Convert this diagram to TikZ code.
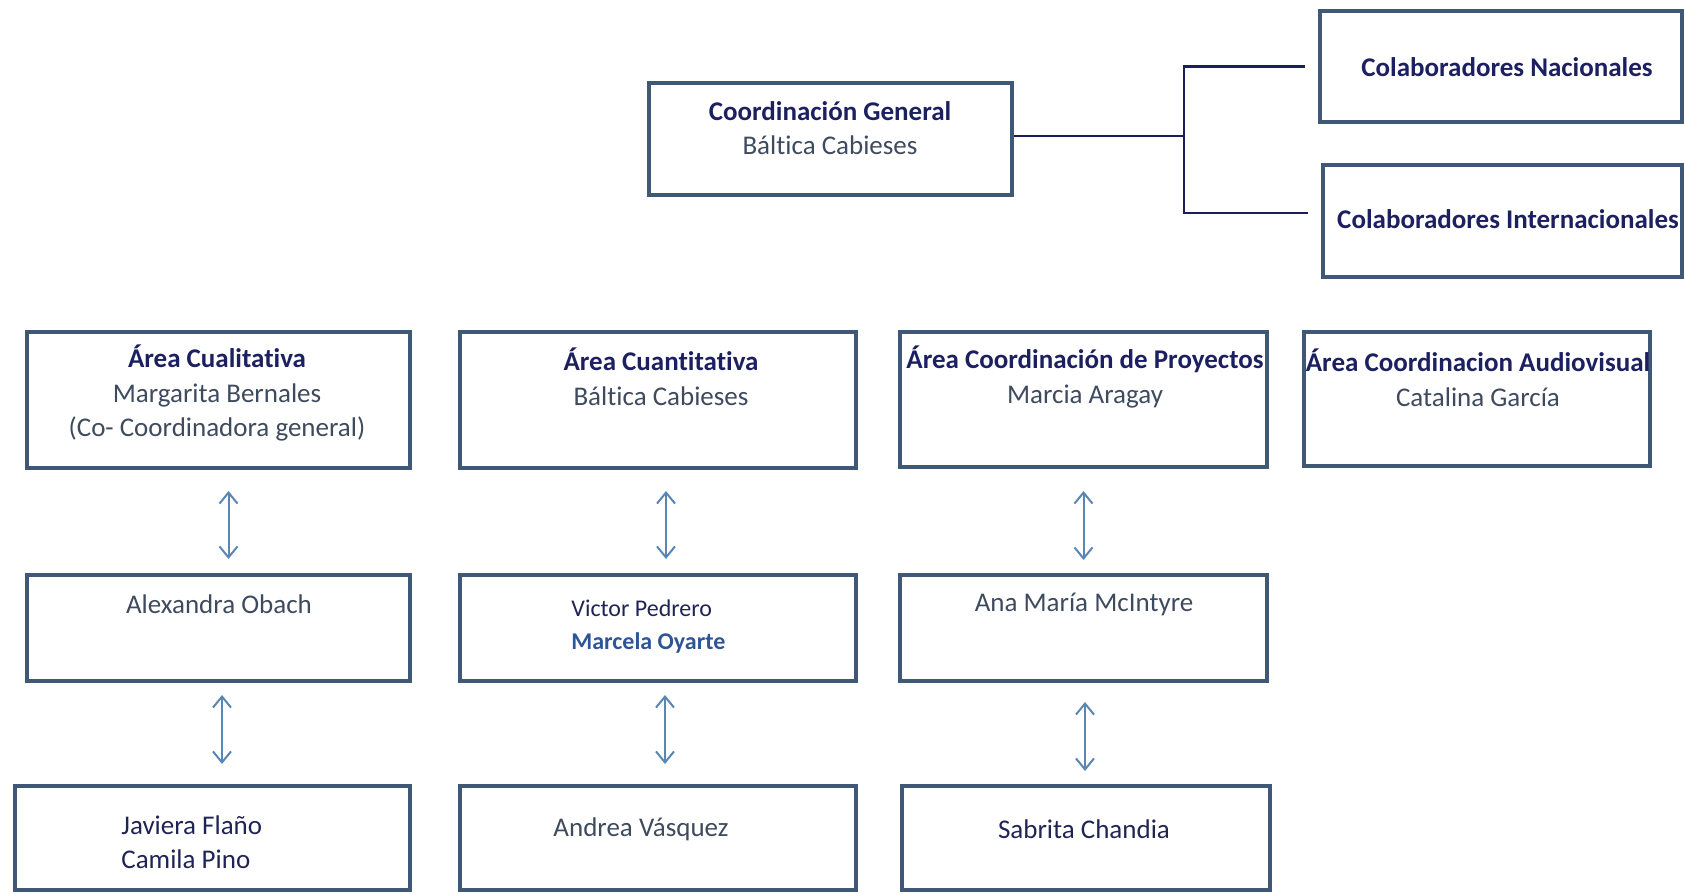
\documentclass[tikz,border=0pt]{standalone}
\usepackage{fontspec}
\setmainfont{Carlito}[Ligatures=NoCommon]
\usetikzlibrary{fit,arrows.meta}
\definecolor{borde}{HTML}{405878}
\definecolor{titulo}{HTML}{1C2060}
\definecolor{nombre}{HTML}{3E4A5E}
\definecolor{oscuro}{HTML}{202454}
\definecolor{azul}{HTML}{2E5597}
\definecolor{flechac}{HTML}{5A87B2}
\definecolor{lineac}{HTML}{1B1E5C}
\newcommand{\areatit}[1]{\textbf{\textcolor{titulo}{#1}}}
\begin{document}
\begin{tikzpicture}[x=0.5pt,y=-0.5pt]
\tikzstyle{caja}=[draw=borde,line width=2pt,inner sep=0pt]
\tikzstyle{txt}=[align=center,text=nombre,font=\fontsize{13.5}{17.25}\selectfont,inner sep=0pt]
\tikzstyle{flecha}=[draw=flechac,line width=1pt,{Straight Barb[length=5.5pt,width=9pt]}-{Straight Barb[length=5.5pt,width=9pt]}]
\tikzstyle{linea}=[draw=lineac,line width=1.25pt]
\useasboundingbox (0,0) rectangle (1684,893);
\node[caja,fit={(649,83) (1012,195)}] (cg) {};
\node[caja,fit={(1320,11) (1682,122)}] (nac) {};
\node[caja,fit={(1323,165) (1682,277)}] (inter) {};
\node[caja,fit={(27,332) (410,468)}] (cual) {};
\node[caja,fit={(460,332) (856,468)}] (cuan) {};
\node[caja,fit={(900,332) (1267,467)}] (proy) {};
\node[caja,fit={(1304,332) (1650,466)}] (audio) {};
\node[caja,fit={(27,575) (410,681)}] (obach) {};
\node[caja,fit={(460,575) (856,681)}] (pedrero) {};
\node[caja,fit={(900,575) (1267,681)}] (mcintyre) {};
\node[caja,fit={(15,786) (410,890)}] (flano) {};
\node[caja,fit={(460,786) (856,890)}] (vasquez) {};
\node[caja,fit={(902,786) (1270,890)}] (chandia) {};
\node[txt] at (830,128) (cgt) {\areatit{Coordinación General}\\Báltica Cabieses};
\node[txt] at (1507,67) (nact) {\areatit{Colaboradores Nacionales}};
\node[txt] at (1508,219) (intert) {\areatit{Colaboradores Internacionales}};
\node[txt] at (217,393) (cualt) {\areatit{Área Cualitativa}\\Margarita Bernales\\(Co- Coordinadora general)};
\node[txt] at (661,377) (cuant) {\areatit{Área Cuantitativa}\\Báltica Cabieses};
\node[txt] at (1085,377) (proyt) {\areatit{Área Coordinación de Proyectos}\\Marcia Aragay};
\node[txt] at (1478,378) (audiot) {\areatit{Área Coordinacion Audiovisual}\\Catalina García};
\node[txt] at (219,604) (obacht) {Alexandra Obach};
\node[txt,anchor=west,align=left,font=\fontsize{12}{16.5}\selectfont] at (571,627) (pedrerot) {\textcolor{oscuro}{Victor Pedrero}\\\textbf{\textcolor{azul}{Marcela Oyarte}}};
\node[txt] at (1084,604) (mcintyret) {Ana María McIntyre};
\node[txt,anchor=west,align=left,text=oscuro] at (121,842) (flanot) {Javiera Flaño\\Camila Pino};
\node[txt] at (641,829) (vasquezt) {Andrea Vásquez};
\node[txt,text=oscuro] at (1084,829) (chandiat) {Sabrita Chandia};
\coordinate (rama) at (1184,136);
\draw[linea] ([yshift=1.5pt]cg.east) -- (rama);
\draw[linea] ([xshift=-6.5pt]nac.west) -| (rama) |- ([xshift=-6.5pt,yshift=4pt]inter.west);
\draw[flecha,shorten <=10.5pt,shorten >=7pt] ([xshift=5pt]cual.south) -- ([xshift=5pt]cual.south |- obach.north);
\draw[flecha,shorten <=6pt,shorten >=10pt] ([xshift=1.75pt]obach.south) -- ([xshift=1.75pt]obach.south |- flano.north);
\draw[flecha,shorten <=10.5pt,shorten >=7pt] ([xshift=4pt]cuan.south) -- ([xshift=4pt]pedrero.north);
\draw[flecha,shorten <=6pt,shorten >=10pt] ([xshift=3.5pt]pedrero.south) -- ([xshift=3.5pt]vasquez.north);
\draw[flecha,shorten <=11pt,shorten >=6.5pt] (proy.south) -- (mcintyre.north);
\draw[flecha,shorten <=9.5pt,shorten >=6.5pt] ([xshift=0.75pt]mcintyre.south) -- ([xshift=0.75pt]mcintyre.south |- chandia.north);
\end{tikzpicture}
\end{document}
